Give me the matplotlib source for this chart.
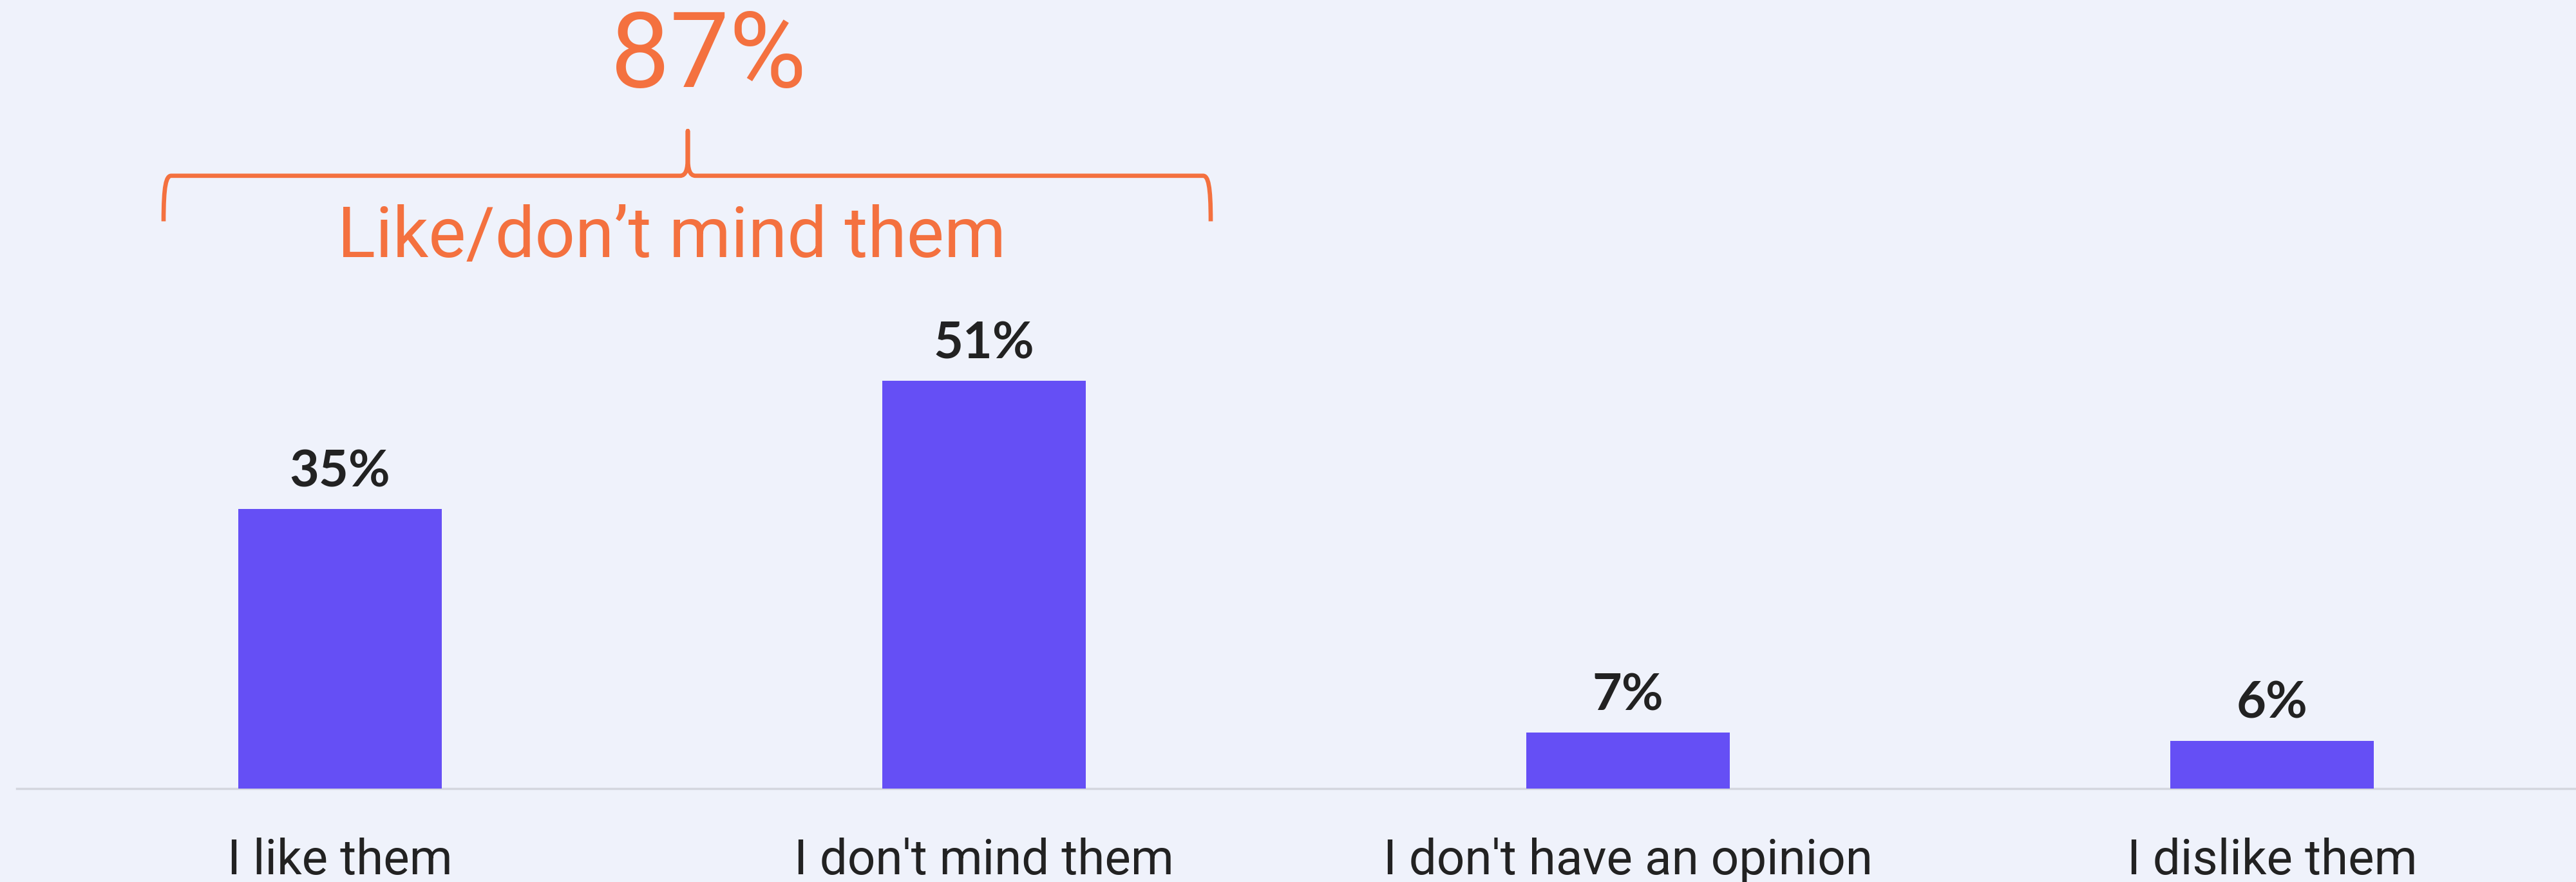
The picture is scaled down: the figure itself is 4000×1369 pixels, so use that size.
import matplotlib.pyplot as plt
from matplotlib.path import Path
from matplotlib.patches import PathPatch

categories = ["I like them", "I don't mind them", "I don't have an opinion", "I dislike them"]
values = [35, 51, 7, 6]
combined_value = 87
combined_label = "Like/don\u2019t mind them"

bg = "#EFF2FB"
bar_color = "#654FF5"
orange = "#F4713F"
dark = "#222222"

fig = plt.figure(figsize=(40, 13.69), dpi=100, facecolor=bg)
ax = fig.add_axes([0, 0, 1, 1])
ax.set_facecolor(bg)

x = list(range(len(categories)))
ax.bar(x, values, width=0.316, color=bar_color, zorder=2)

ax.set_xlim(-0.528, 3.472)
ax.set_ylim(-11.7, 98.7)
ax.axis("off")

# baseline
ax.axhline(0, xmin=0.0065, xmax=1, color="#D4D6DE", lw=2.5, zorder=1)

for xi, v in zip(x, values):
    ax.text(xi, v + 2.8, f"{v}%", ha="center", va="baseline",
            fontsize=57, fontweight="bold", family="Lato", color=dark)

for xi, c in zip(x, categories):
    ax.text(xi, -10.7, c, ha="center", va="baseline",
            fontsize=55, family="Roboto", color=dark)

# brace over the first two bars
xl, xr, xm = -0.274, 1.352, 0.54
yb, ye, yt = 76.7, 71.0, 82.3
verts = [
    (xl, ye), (xl, 75.5), (xl + 0.004, yb), (xl + 0.012, yb),
    (xm - 0.012, yb),
    (xm - 0.003, yb), (xm, 77.5), (xm, 79.0),
    (xm, yt),
    (xm, 79.0),
    (xm, 77.5), (xm + 0.003, yb), (xm + 0.012, yb),
    (xr - 0.012, yb),
    (xr - 0.004, yb), (xr, 75.5), (xr, ye),
]
codes = [Path.MOVETO, Path.CURVE4, Path.CURVE4, Path.CURVE4,
         Path.LINETO,
         Path.CURVE4, Path.CURVE4, Path.CURVE4,
         Path.LINETO,
         Path.LINETO,
         Path.CURVE4, Path.CURVE4, Path.CURVE4,
         Path.LINETO,
         Path.CURVE4, Path.CURVE4, Path.CURVE4]
ax.add_patch(PathPatch(Path(verts, codes), facecolor="none", edgecolor=orange,
                       lw=4.8, capstyle="butt", joinstyle="round", zorder=3))

ax.text(0.572, 87.8, f"{combined_value}%", ha="center", va="baseline",
        fontsize=118, family="Roboto", color=orange)
ax.text(0.515, 66.5, combined_label, ha="center", va="baseline",
        fontsize=79, family="Roboto", color=orange)

fig.savefig("out.png", dpi=100, facecolor=bg)
